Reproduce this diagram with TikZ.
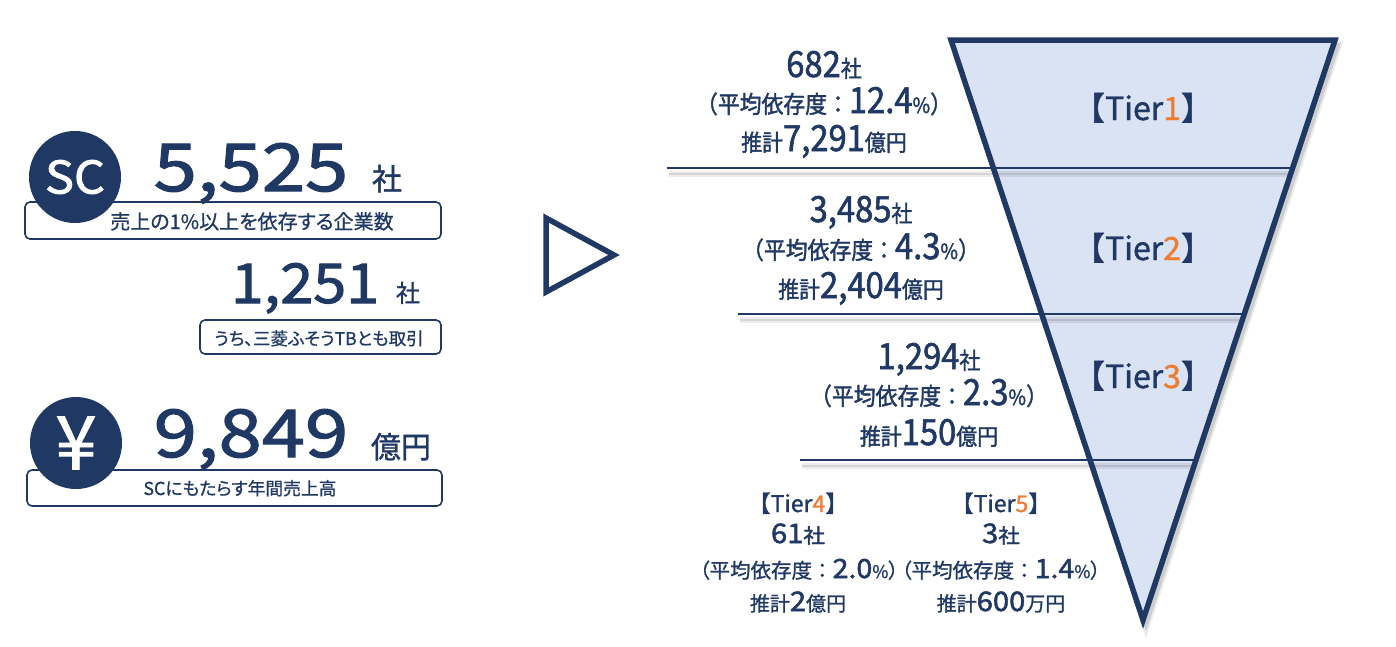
\documentclass[tikz,border=0pt]{standalone}
\usepackage{fontspec}
\setmainfont[FakeBold=1.2]{Noto Sans CJK JP}
\newfontfamily\narrowfont[FakeStretch=0.91,FakeBold=1.6]{Noto Sans CJK JP}
\newfontfamily\widefont[FakeStretch=1.08,FakeBold=1.8]{Noto Sans CJK JP}
\newfontfamily\widerfont[FakeStretch=1.18,FakeBold=1.8]{Noto Sans CJK JP}
\newfontfamily\capfont[RawFeature=+palt,FakeBold=0.7]{Noto Sans CJK JP}

\definecolor{navy}{HTML}{203864}
\definecolor{funnelblue}{HTML}{DAE3F3}
\definecolor{tierorange}{HTML}{ED7D31}

\newcommand{\fs}[1]{\fontsize{#1}{#1}\selectfont}
\newcommand{\tiernum}[1]{\textcolor{tierorange}{#1}}
\newcommand{\openparen}{{\capfont（}}
\newcommand{\closeparen}{{\capfont）}}

\tikzset{
    label/.style={text=navy, inner sep=0pt, anchor=base},
    pillbox/.style={draw=navy, line width=1.6pt, rounded corners=5pt, fill=white},
    badge/.style={circle, fill=navy, text=white, minimum size=92pt, inner sep=0pt},
    rule/.style={draw=navy, line width=2.6pt},
    ruleshadow/.style={draw=black, line width=2.5pt, opacity=0.1,
        preaction={draw=black, line width=6pt, opacity=0.07}},
    funnelshadow/.style={draw=black, line width=4pt, opacity=0.12, line join=miter,
        preaction={draw=black, line width=8pt, opacity=0.08, line join=miter}},
}

\begin{document}
\begin{tikzpicture}[x=1pt, y=-1pt]
    \useasboundingbox (0,0) rectangle (1396,646);

    % left side
    \draw [pillbox]
        (25,202) rectangle (441,239)
        ;
    \draw [pillbox]
        (200,320) rectangle (441,354)
        ;
    \draw [pillbox]
        (27,470) rectangle (442,506)
        ;

    \node [badge] (scbadge) at (75,177) {\widefont\fs{45}SC};
    \node [badge] (yenbadge) at (76,443) {\fs{74}¥};

    \node [label] (scnum) at (251,191) {\widerfont\fs{66}5,525};
    \node [label] (scunit) at (387,190) {\fs{30}社};
    \node [label] (sccap) at (252,229) {\capfont\fs{20}売上の1\%以上を依存する企業数};

    \node [label] (tbnum) at (305,303) {\widefont\fs{55}1,251};
    \node [label] (tbunit) at (408,302) {\fs{24}社};
    \node [label] (tbcap) at (319,345) {\capfont\fs{17.5}うち、三菱ふそうTBとも取引};

    \node [label] (yennum) at (251,457) {\widerfont\fs{66}9,849};
    \node [label] (yenunit) at (401,458) {\fs{30}億円};
    \node [label] (yencap) at (240,495) {\capfont\fs{17.8}SCにもたらす年間売上高};

    % arrow in the middle
    \draw [draw=navy, line width=5.5pt, line join=miter]
        (546,218) -- (546,292) -- (614,255) -- cycle
        ;

    % funnel
    \coordinate (topleft) at (951,40);
    \coordinate (topright) at (1335,40);
    \coordinate (apex) at (1143,620);

    \draw [funnelshadow]
        ([shift={(3,5)}]topleft) -- ([shift={(3,5)}]topright) -- ([shift={(3,5)}]apex) -- cycle
        ;
    \fill [funnelblue]
        (topleft) -- (topright) -- (apex) -- cycle
        ;

    \coordinate (ruleAleft) at (667,168);
    \coordinate (ruleAright) at (1293,168);
    \coordinate (ruleBleft) at (738,314);
    \coordinate (ruleBright) at (1244,314);
    \coordinate (ruleCleft) at (800,460);
    \coordinate (ruleCright) at (1196,460);

    \draw [ruleshadow]
        ([shift={(2,6)}]ruleAleft) -- ([shift={(-4,6)}]ruleAright)
        ;
    \draw [ruleshadow]
        ([shift={(2,6)}]ruleBleft) -- ([shift={(-4,6)}]ruleBright)
        ;
    \draw [ruleshadow]
        ([shift={(2,6)}]ruleCleft) -- ([shift={(-4,6)}]ruleCright)
        ;

    \draw [rule]
        (ruleAleft) -- (ruleAright)
        ;
    \draw [rule]
        (ruleBleft) -- (ruleBright)
        ;
    \draw [rule]
        (ruleCleft) -- (ruleCright)
        ;

    \draw [draw=navy, line width=5.5pt, line join=miter]
        (topleft) -- (topright) -- (apex) -- cycle
        ;

    % tier names in the funnel
    \node [label] (tierone) at (1143,120) {\fs{32}【Tier\tiernum{1}】};
    \node [label] (tiertwo) at (1143,260) {\fs{32}【Tier\tiernum{2}】};
    \node [label] (tierthree) at (1143,388) {\fs{32}【Tier\tiernum{3}】};

    % first tier
    \node [label] (onecount) at (824,77) {\narrowfont\fs{36}682\fs{23}社};
    \node [label] (oneshare) at (824,113) {\narrowfont\fs{24}（平均依存度：\fs{36}12.4\fs{21}\%\fs{24}）};
    \node [label] (onesales) at (824,151) {\narrowfont\fs{23}推計\fs{36}7,291\fs{23}億円};

    % second tier
    \node [label] (twocount) at (861,222) {\narrowfont\fs{36}3,485\fs{23}社};
    \node [label] (twoshare) at (861,259) {\narrowfont\fs{24}（平均依存度：\fs{36}4.3\fs{21}\%\fs{24}）};
    \node [label] (twosales) at (861,298) {\narrowfont\fs{23}推計\fs{36}2,404\fs{23}億円};

    % third tier
    \node [label] (threecount) at (929,369) {\narrowfont\fs{36}1,294\fs{23}社};
    \node [label] (threeshare) at (929,405) {\narrowfont\fs{24}（平均依存度：\fs{36}2.3\fs{21}\%\fs{24}）};
    \node [label] (threesales) at (929,445) {\narrowfont\fs{23}推計\fs{36}150\fs{23}億円};

    % last two tiers
    \node [label] (fourname) at (798,512) {\fs{23}【Tier\tiernum{4}】};
    \node [label] (fourcount) at (798,543) {\widefont\fs{27}61\fs{20}社};
    \node [label] (fourshare) at (799,578) {\fs{20.5}\openparen 平均依存度：{\widefont\fs{26.5}2.0}\fs{17.5}\%\fs{20.5}\closeparen};
    \node [label] (foursales) at (798,611) {\fs{20}推計{\widefont\fs{27}2}億円};

    \node [label] (fivename) at (1001,512) {\fs{23}【Tier\tiernum{5}】};
    \node [label] (fivecount) at (1001,543) {\widefont\fs{27}3\fs{20}社};
    \node [label] (fiveshare) at (1001,578) {\fs{20.5}\openparen 平均依存度：{\widefont\fs{26.5}1.4}\fs{17.5}\%\fs{20.5}\closeparen};
    \node [label] (fivesales) at (1001,611) {\fs{20}推計{\widefont\fs{27}600}万円};
\end{tikzpicture}
\end{document}
